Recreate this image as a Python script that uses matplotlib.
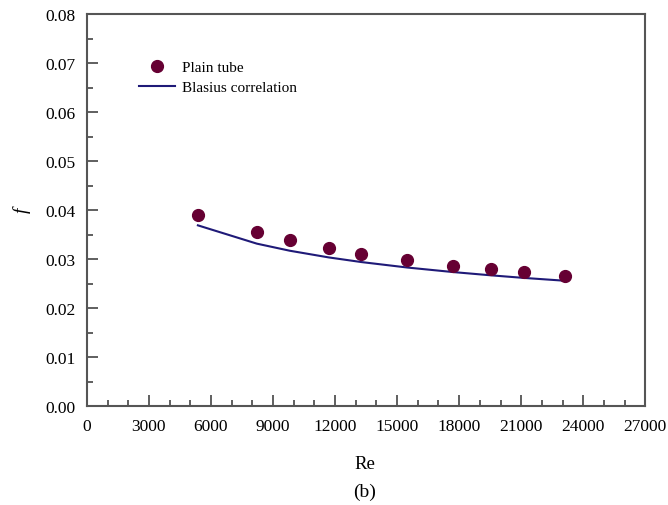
import matplotlib
matplotlib.use("Agg")
import matplotlib.pyplot as plt
from matplotlib.ticker import MultipleLocator, FormatStrFormatter

plt.rcParams['font.family'] = ['Liberation Serif', 'DejaVu Serif']

# data
re_plain = [5369, 8218, 9806, 11699, 13267, 15500, 17699, 19544, 21116, 23136]
f_plain = [0.0391, 0.03555, 0.03384, 0.0322, 0.0311, 0.02976, 0.02867, 0.02792, 0.02739, 0.02663]
f_blasius = [0.03692, 0.03319, 0.03175, 0.03038, 0.02944, 0.02832, 0.02740, 0.02673, 0.02621, 0.02562]

fig = plt.figure(figsize=(6.68, 5.06), dpi=100)
ax = fig.add_axes([0.130, 0.1947, 0.836, 0.7757])

ax.plot(re_plain, f_plain, 'o', color='#660033', markersize=8.5, label='Plain tube', zorder=3)
ax.plot(re_plain, f_blasius, '-', color='#1f1a78', linewidth=1.5, label='Blasius correlation')

ax.set_xlim(0, 27000)
ax.set_ylim(0, 0.08)
ax.xaxis.set_major_locator(MultipleLocator(3000))
ax.xaxis.set_minor_locator(MultipleLocator(1000))
ax.yaxis.set_major_locator(MultipleLocator(0.01))
ax.yaxis.set_minor_locator(MultipleLocator(0.005))
ax.yaxis.set_major_formatter(FormatStrFormatter('%.2f'))

ax.tick_params(which='both', direction='in', top=False, right=False, colors='#444444', labelcolor='black',
               labelsize=12.5, width=1.2)
ax.tick_params(which='major', length=8, pad=8)
ax.tick_params(which='minor', length=4.5)
for s in ax.spines.values():
    s.set_color('#555555')
    s.set_linewidth(1.5)

# axis titles placed by hand, like the reference
fig.text(365 / 668, 1 - 465 / 506, 'Re', fontsize=13.5, ha='center', va='center')
fig.text(365 / 668, 1 - 492 / 506, '(b)', fontsize=14, ha='center', va='center')
fig.text(22 / 668, 1 - 210 / 506, 'f', fontsize=14, style='italic', rotation=90, ha='center', va='center')

leg = ax.legend(loc='upper left', bbox_to_anchor=(0.093, 0.881), frameon=False, fontsize=11,
                handlelength=2.35, handletextpad=0.5, labelspacing=0.4, borderaxespad=0, borderpad=0)

fig.savefig('out.png', dpi=100)
